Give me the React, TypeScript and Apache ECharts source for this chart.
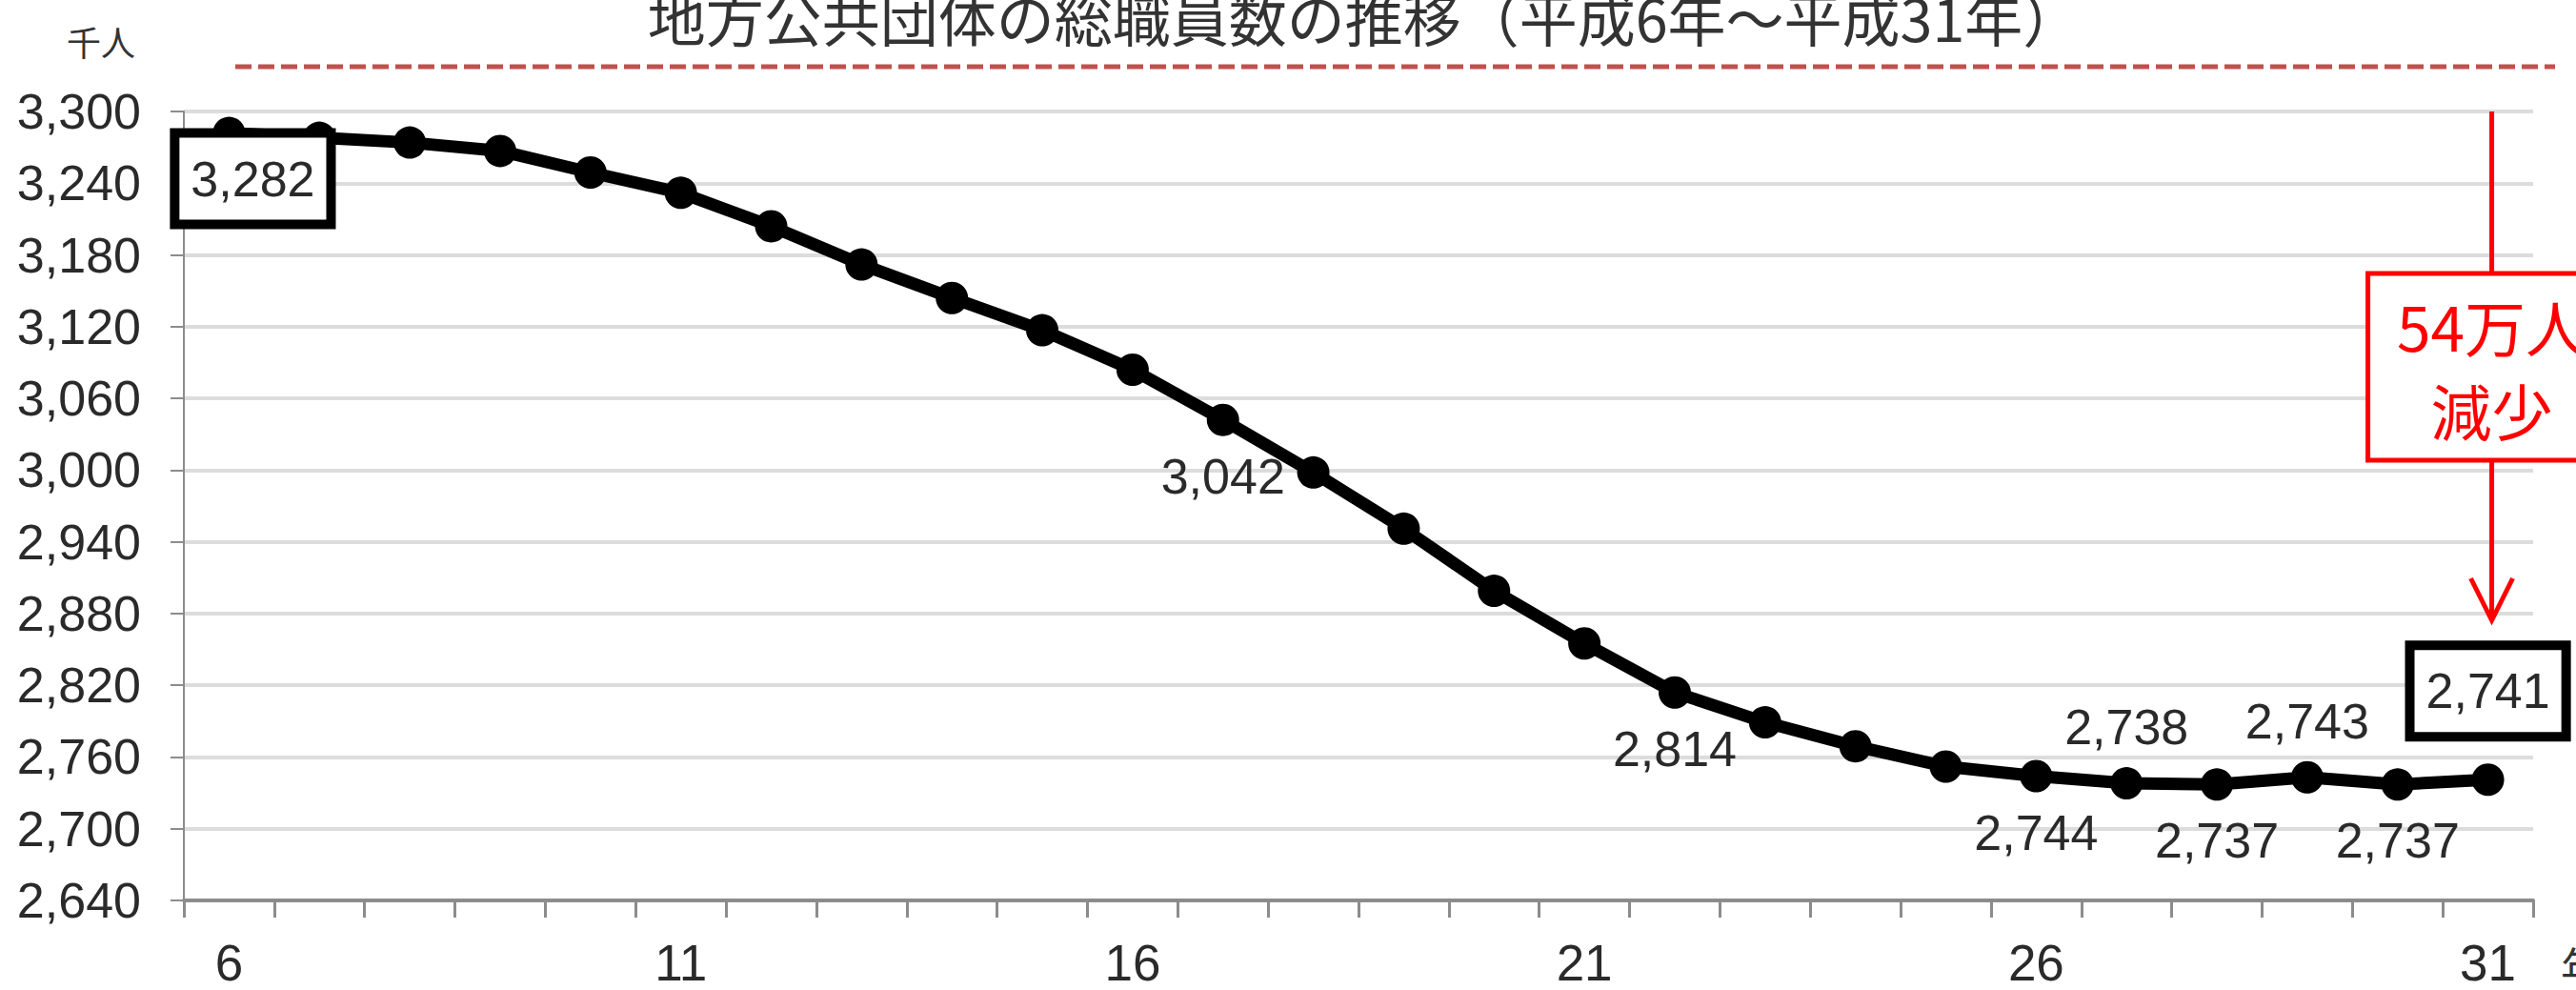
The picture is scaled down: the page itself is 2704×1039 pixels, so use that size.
import React, { useEffect, useRef } from 'react';
import * as echarts from 'echarts';

// 平成 years (category axis)
const years = ['6','7','8','9','10','11','12','13','14','15','16','17','18','19','20','21','22','23','24','25','26','27','28','29','30','31'];
// 総職員数 (千人)
const staff = [3282,3278,3274,3267,3249,3232,3204,3172,3144,3117,3084,3042,2998,2951,2899,2855,2814,2789,2769,2752,2744,2738,2737,2743,2737,2741];
// value axis ticks
const yMin = 2640;
const yMax = 3300;
const yStep = 60;
// which points carry value labels
const labelBelow = [11, 16, 20, 22, 24];
const labelAbove = [21, 23];
const boxedFirst = 0;
const boxedLast = 25;
// texts
const titleText = '地方公共団体の総職員数の推移（平成6年～平成31年）';
const unitText = '千人';
const xUnitText = '年';
const noteText = '54万人\n減少';

const NUM_FONT = "'Liberation Sans', Arial, Helvetica, sans-serif";
const JP_FONT = "'Noto Sans CJK JP', 'Noto Sans', sans-serif";
const fmt = (v: number) => v.toLocaleString('en-US');

export default function App() {
  const ref = useRef<HTMLDivElement>(null);
  useEffect(() => {
    if (!ref.current) return;
    const chart = echarts.init(ref.current, undefined, { renderer: 'svg' });

    const boxStyle = {
      show: true,
      position: 'inside',
      color: '#2a2a2a',
      borderColor: '#000',
      borderWidth: 10,
      backgroundColor: '#fff',
      padding: [18, 12, 16, 12],
    };

    const data = staff.map((v, i) => {
      let label: any = undefined;
      if (labelBelow.includes(i)) label = { show: true, position: 'bottom', distance: 16 };
      else if (labelAbove.includes(i)) label = { show: true, position: 'top', distance: 16 };
      else if (i === boxedFirst) label = { ...boxStyle, offset: [25, 48] };
      else if (i === boxedLast) label = { ...boxStyle, offset: [0, -93] };
      return label ? { value: v, label } : { value: v };
    });

    chart.setOption({
      animation: false,
      backgroundColor: '#fff',
      grid: { left: 193, right: 45, top: 117, bottom: 94, containLabel: false },
      xAxis: {
        type: 'category',
        data: years,
        boundaryGap: true,
        axisLine: { show: true, lineStyle: { color: '#8c8c8c', width: 4 } },
        axisTick: { show: true, interval: 0, length: 18, lineStyle: { color: '#8c8c8c', width: 3 } },
        axisLabel: { interval: 4, fontSize: 53, color: '#2a2a2a', margin: 39, fontFamily: NUM_FONT },
        splitLine: { show: false },
      },
      yAxis: {
        type: 'value',
        min: yMin,
        max: yMax,
        interval: yStep,
        axisLine: { show: true, lineStyle: { color: '#8c8c8c', width: 2 } },
        axisTick: { show: true, length: 14, lineStyle: { color: '#8c8c8c', width: 2 } },
        axisLabel: { fontSize: 52, color: '#2a2a2a', margin: 45, fontFamily: NUM_FONT, formatter: (v: number) => fmt(v) },
        splitLine: { show: true, lineStyle: { color: '#dcdcdc', width: 4 } },
      },
      series: [
        {
          type: 'line',
          data,
          symbol: 'circle',
          symbolSize: 34,
          smooth: false,
          itemStyle: { color: '#000' },
          lineStyle: { color: '#000', width: 13 },
          label: {
            show: false,
            fontSize: 52,
            color: '#2a2a2a',
            fontFamily: NUM_FONT,
            formatter: (p: any) => fmt(p.value),
          },
          z: 3,
        },
      ],
    });

    const px = chart.convertToPixel({ seriesIndex: 0 }, [boxedLast, staff[boxedLast]]) as number[];
    const ax = px[0] + 4;
    const topY = chart.convertToPixel({ yAxisIndex: 0 }, yMax) as number;
    const boxTop = 287;
    const boxBottom = 483;
    const tipY = 651;

    chart.setOption({
      graphic: [
        {
          type: 'text',
          x: 1432,
          y: 17,
          style: { text: titleText, fontSize: 61, fontFamily: JP_FONT, fill: '#333', align: 'center', verticalAlign: 'middle' },
        },
        {
          type: 'text',
          x: 106,
          y: 43,
          style: { text: unitText, fontSize: 36, fontFamily: JP_FONT, fill: '#333', align: 'center', verticalAlign: 'middle' },
        },
        {
          type: 'text',
          x: 2688,
          y: 1013,
          style: { text: xUnitText, fontSize: 44, fontFamily: JP_FONT, fill: '#333', align: 'left', verticalAlign: 'middle' },
        },
        {
          type: 'line',
          shape: { x1: 247, y1: 70, x2: 2682, y2: 70 },
          style: { stroke: '#C0504D', lineWidth: 5, lineDash: [17, 7] },
        },
        {
          type: 'line',
          shape: { x1: ax, y1: topY, x2: ax, y2: boxTop },
          style: { stroke: '#FF0000', lineWidth: 5 },
        },
        {
          type: 'rect',
          shape: { x: ax - 130, y: boxTop, width: 260, height: boxBottom - boxTop },
          style: { stroke: '#FF0000', lineWidth: 5, fill: '#fff' },
        },
        {
          type: 'text',
          x: ax,
          y: (boxTop + boxBottom) / 2,
          style: { text: noteText, fontSize: 64, lineHeight: 88, fontFamily: JP_FONT, fill: '#FF0000', align: 'center', verticalAlign: 'middle' },
        },
        {
          type: 'line',
          shape: { x1: ax, y1: boxBottom, x2: ax, y2: tipY - 2 },
          style: { stroke: '#FF0000', lineWidth: 5 },
        },
        {
          type: 'polyline',
          shape: { points: [[ax - 22, tipY - 44], [ax, tipY], [ax + 22, tipY - 44]] },
          style: { stroke: '#FF0000', lineWidth: 5, fill: 'none' },
        },
      ],
    });

    return () => chart.dispose();
  }, []);

  return (
    <div
      ref={ref}
      style={{ position: 'absolute', left: 0, top: 0, width: 2704, height: 1039, background: '#fff' }}
    />
  );
}
